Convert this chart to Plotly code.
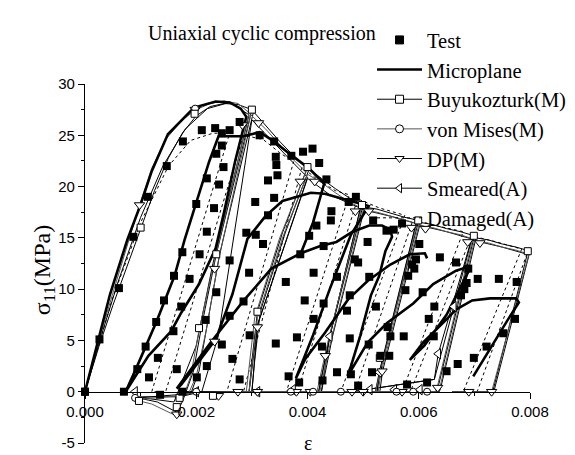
import plotly.graph_objects as go

# ---------------- data (strain in units of 1e-3, stress in MPa) ----------------
test_x = [0.00, 0.26, 0.61, 0.87, 1.13, 1.47, 1.76, 2.10, 2.34, 2.46, 2.60, 2.78, 2.46, 2.36, 2.49, 2.19,
          2.41, 2.00, 2.32, 3.14, 3.40, 3.43, 3.44, 3.46, 3.29, 3.06, 3.29, 2.90, 3.71, 3.92, 4.09, 4.21,
          4.34, 3.40, 4.16, 4.03, 4.43, 4.42, 4.74, 4.87, 5.18, 5.42, 5.70,
          0.70, 0.94, 1.09, 1.15, 1.28, 1.31, 1.42, 1.60, 1.75, 1.59, 1.65, 1.73, 1.88, 2.06, 2.17, 2.36,
          2.01, 2.19, 2.46, 2.60, 2.65, 2.60, 2.78, 2.85, 2.95, 2.96, 3.20, 3.43, 3.61, 3.66, 3.81, 3.85,
          3.87, 3.95, 4.11, 4.11, 4.29, 4.29, 4.27, 4.26, 4.53, 4.53, 4.76, 4.71, 4.76, 4.78, 4.91, 4.85,
          4.91, 5.08, 5.23, 5.11, 5.10, 5.16, 5.31, 5.44, 5.47, 5.49, 5.55, 5.73, 5.79, 5.81, 5.88, 5.76,
          5.92, 6.01, 5.95, 6.07, 6.15, 6.18, 6.27, 6.28, 6.38, 6.50, 6.67, 6.70, 6.76, 6.82, 6.86, 6.89,
          6.99, 7.06, 7.22, 7.44, 7.52, 7.73, 7.76, 2.19, 3.07, 1.35, 1.75]
test_y = [0.0, 5.1, 10.1, 15.1, 19.0, 22.0, 24.4, 25.5, 25.7, 25.2, 25.5, 26.3, 24.0, 23.2, 21.9, 20.8,
          20.2, 18.3, 17.9, 25.0, 24.4, 22.9, 22.1, 21.1, 20.6, 18.5, 17.2, 15.5, 23.0, 23.4, 23.7, 22.3,
          20.7, 18.9, 16.2, 15.2, 17.6, 16.7, 18.5, 19.0, 16.7, 15.7, 16.4,
          0.0, 2.2, 4.4, 1.4, 6.8, 3.3, 8.9, 11.3, 13.6, 5.9, 2.2, 8.3, 11.0, 13.4, 7.0, 9.7,
          1.4, 2.5, 4.6, 7.4, 3.2, 12.8, 1.2, 8.8, 11.6, 5.5, 14.4, 4.7, 10.7, 1.5, 5.3, 0.9,
          13.4, 8.9, 11.6, 7.1, 8.6, 14.2, 1.1, 4.4, 1.9, 11.2, 9.4, 7.9, 5.2, 1.7, 0.6, 12.9,
          12.6, 14.6, 8.3, 11.2, 4.6, 1.9, 3.5, 6.3, 3.5, 5.4, 15.8, 5.4, 0.7, 11.3, 12.4, 9.9,
          12.0, 14.4, 12.9, 9.7, 0.9, 7.1, 5.4, 8.3, 13.1, 2.0, 12.6, 2.7, 9.4, 10.0, 10.6, 12.0,
          3.3, 11.0, 4.4, 11.0, 5.7, 7.1, 10.7, 15.6, 15.3, -0.3, 0.0]

micro_x = [0, 0.45, 0.76, 0.99, 1.2, 1.49, 1.96, 2.35, 2.6, 2.8, 2.9,
           2.7, 2.5, 2.35, 2.05, 1.73, 1.55, 1.14, 0.73,
           0.93, 1.29, 1.61, 1.79, 2.23, 2.4, 2.85, 3.14,
           3.37, 3.7, 4.02, 4.3, 4.1, 3.88, 3.35, 2.84, 2.26, 1.65,
           1.73, 2.35, 2.65, 2.92, 3.24, 3.55, 4.06, 4.31, 4.77, 5.1,
           4.78, 4.4, 4.1, 3.79, 3.96, 4.32, 4.73, 5.08, 5.49, 5.84, 6.11, 6.15, None,
           3.88, 4.23, 4.52, 4.81, 5.11, 5.34, 5.49, 5.52, 5.4, 5.29, 5.14, 4.95, 4.73,
           5.08, 5.43, 5.9, 6.26, 6.67, 6.84, 6.9, 6.5, 6.1, 5.84,
           6.08, 6.49, 6.67, 6.96, 7.28, 7.75, 7.8, 7.6, 7.3, 6.98]
micro_y = [0, 9.5, 14.8, 18.1, 21.5, 25.1, 27.7, 28.3, 28.2, 27.6, 26.8,
           22.5, 17.5, 14.0, 10.5, 7.7, 5.9, 3.5, 0.0,
           2.4, 6.9, 11.3, 14.8, 22.4, 24.9, 24.9, 25.3,
           24.5, 23.1, 21.8, 20.3, 16.5, 13.5, 12.0, 8.8, 4.8, 0.3,
           0.7, 5.1, 9.5, 14.9, 17.1, 18.6, 19.4, 19.3, 18.6, 18.1,
           15.3, 10.0, 5.5, 1.3, 3.2, 5.8, 9.0, 10.8, 12.4, 13.4, 13.5, 13.0, None,
           13.5, 14.2, 14.6, 15.6, 16.2, 16.2, 15.8, 15.1, 13.7, 11.3, 9.4, 5.5, 1.6,
           4.8, 6.7, 8.6, 10.5, 11.8, 12.1, 11.8, 7.5, 4.5, 3.1,
           4.8, 7.0, 8.0, 8.9, 9.1, 9.1, 8.7, 7.0, 4.3, 1.5]

buyuk_x = [0, 0.25, 0.5, 0.75, 1.0, 1.25, 1.5, 1.75, 2.0, 2.25, 2.5, 2.75, 3.0,
           2.36, 2.1, 1.95, 1.75, 1.65, 1.3, 0.95, 1.4, 1.9, 2.05, 2.2, 2.42, 3.03,
           3.25, 3.5, 3.75, 4.0, 3.55, 3.1, 3.0, 2.95, 1.8, 3.0, 3.05, 3.15, 3.6, 4.03,
           4.25, 4.5, 4.75, 5.0, 4.4, 4.2, 2.9, 4.25, 4.45, 5.03,
           5.25, 5.5, 5.75, 6.0, 5.3, 5.25, 3.85, 5.3, 5.35, 6.03,
           6.25, 6.5, 6.75, 7.0, 6.35, 6.32, 4.8, 6.37, 6.4, 7.03,
           7.25, 7.5, 7.75, 8.0, 7.35, 6.6]
buyuk_y = [0, 4.4, 8.4, 12.2, 16.0, 19.6, 22.8, 25.2, 26.9, 27.8, 28.1, 28.0, 27.5,
           13.4, 6.5, 2.0, -1.0, -2.0, -1.0, -0.6, -0.4, -0.2, 2.0, 6.5, 13.4, 27.3,
           25.9, 24.4, 23.0, 21.9, 15.5, 7.8, 3.0, 0.0, -0.1, 0.0, 3.0, 7.8, 15.5, 21.7,
           20.8, 19.8, 18.9, 18.2, 5.4, 0.0, 0.0, 0.0, 5.4, 18.0,
           17.8, 17.4, 17.0, 16.7, 2.0, 0.0, 0.0, 0.0, 2.0, 16.5,
           16.3, 15.9, 15.6, 15.2, 0.5, 0.0, 0.0, 0.0, 0.5, 15.0,
           14.8, 14.4, 14.1, 13.7, 0.0, 0.0]
buyuk_mx = [0, 1.0, 1.97, 3.0, 4.0, 4.98, 5.99, 6.99, 7.96, 2.36, 2.05, 3.1, 0.97, 1.7, 2.3, 5.3, 1.65]
buyuk_my = [0, 16.0, 27.1, 27.5, 21.9, 18.2, 16.7, 15.2, 13.7, 13.4, 6.2, 7.8, -0.9, -0.6, -0.4, 3.3, -1.5]

vm_x = [0, 0.25, 0.5, 0.75, 0.98, 1.2, 1.45, 1.75, 2.0, 2.25, 2.5, 2.75, 2.95,
        2.33, 2.05, 1.9, 1.7, 1.62, 1.2, 0.9, 1.5, 1.85, 2.0, 2.18, 2.4, 2.98,
        3.25, 3.5, 3.75, 3.97, 3.5, 3.05, 2.95, 2.9, 1.8, 2.95, 3.0, 3.1, 3.55, 4.0,
        4.25, 4.5, 4.75, 4.97, 4.35, 4.17, 2.9, 4.22, 4.4, 5.0,
        5.25, 5.5, 5.75, 5.97, 5.3, 5.22, 3.85, 5.27, 5.32, 6.0,
        6.25, 6.5, 6.75, 6.97, 6.33, 6.3, 4.8, 6.35, 6.38, 7.0,
        7.25, 7.5, 7.75, 7.98, 7.31, 6.6]
vm_y = [0, 5.0, 9.6, 14.0, 18.2, 21.8, 24.6, 26.5, 27.5, 28.1, 28.35, 28.1, 27.2,
        12.8, 6.0, 1.5, -1.5, -2.3, -1.2, -0.8, -0.5, -0.3, 1.5, 6.0, 12.8, 27.0,
        25.6, 24.1, 22.6, 21.4, 15.0, 7.2, 2.5, 0.0, -0.1, 0.0, 2.5, 7.2, 15.0, 21.2,
        20.4, 19.4, 18.5, 17.9, 4.5, 0.0, 0.0, 0.0, 4.5, 17.7,
        17.5, 17.1, 16.7, 16.4, 1.8, 0.0, 0.0, 0.0, 1.8, 16.2,
        16.0, 15.6, 15.3, 14.9, 0.4, 0.0, 0.0, 0.0, 0.4, 14.7,
        14.5, 14.1, 13.8, 13.4, 0.0, 0.0]
vm_mx = [0, 1.98, 3.7, 4.1, 4.6, 5.6, 5.9, 6.15, 0.9, 2.0]
vm_my = [0, 27.6, 0.0, 0.0, 0.0, 0.0, 0.0, 0.0, -0.6, 0.0]

dp_mx = [0.98, 1.98, 2.83, 3.12, 3.87, 4.13, 4.86, 5.1, 5.87, 6.12, 6.88, 7.1, 2.33, 2.33,
         3.1, 4.32, 5.34, 6.34, 7.31, 1.65, 2.4, 2.75, 3.1, 3.8, 4.05, 4.8, 5.0, 5.7, 6.9]
dp_my = [18.2, 27.5, 26.0, 26.2, 20.5, 20.5, 17.6, 17.6, 16.0, 15.9, 14.6, 14.5, 12.0, 4.9,
         6.3, 3.5, 2.0, 0.4, 0.0, -2.2, -0.4, 0.0, 0.0, 0.0, 0.0, 0.0, 0.0, 0.0, 0.0]

smear_x = [0, 0.3, 0.6, 1.0, 1.4, 1.8, 2.2, 2.6, 2.95, 2.3, 2.0, 1.6, 0.9, 1.7, 2.1, 2.4, 3.0,
           3.4, 3.8, 4.0, 3.1, 2.95, 1.8, 3.0, 3.1, 4.0,
           4.4, 4.95, 4.4, 4.2, 2.9, 4.25, 4.4, 4.95,
           5.5, 5.95, 5.29, 5.22, 3.8, 5.25, 5.3, 5.95,
           6.5, 6.95, 6.35, 6.28, 4.8, 6.28, 6.63, 6.95,
           7.5, 7.95, 7.33, 6.6]
smear_y = [0, 5.6, 10.8, 17.0, 22.0, 25.6, 27.6, 28.2, 27.0, 12.5, 4.5, -1.0, -0.5, -0.5, 0.0, 5.5, 26.5,
           24.2, 22.0, 20.9, 6.5, 0.0, 0.0, 0.0, 6.5, 20.8,
           19.2, 17.9, 5.4, 0.0, 0.0, 0.0, 5.4, 17.8,
           17.1, 16.4, 1.9, 0.0, 0.0, 0.0, 1.9, 16.3,
           15.6, 14.9, 3.7, 1.2, 0.0, 1.2, 8.3, 14.8,
           14.1, 13.4, 0.0, 0.0]
smear_mx = [0.9, 3.1, 3.74, 4.4, 5.29, 6.35, 6.63, 5.12, 5.56, 6.02, 2.0]
smear_my = [0.0, 0.0, 0.2, 5.4, 1.9, 3.7, 8.3, 0.2, 0.2, 0.2, 0.0]

dam_x = [0, 0.5, 1.0, 1.5, 1.9, 2.3, 2.6, 1.2, 1.45, 2.85, 3.2, 3.5, 3.75, 2.55, 2.85, 3.9,
         4.2, 4.5, 4.75, 3.62, 3.82, 4.9, 5.3, 5.75, 4.6, 4.85, 5.9, 6.3, 6.8, 5.7, 5.85, 6.95,
         7.4, 7.85, 6.8, 7.05, 7.95]
dam_y = [0, 9.2, 16.5, 22.0, 24.5, 25.2, 25.2, 0.0, 0.0, 25.0, 24.6, 23.3, 22.4, 0.0, 0.0, 21.9,
         20.6, 19.6, 19.2, 0.0, 0.0, 18.8, 17.9, 17.2, 0.0, 0.0, 16.8, 16.2, 15.6, 0.0, 0.0, 15.2,
         14.6, 13.9, 0.0, 0.0, 13.5]

x_tickvals = [0, 2, 4, 6, 8]
x_ticktext = ["0.000", "0.002", "0.004", "0.006", "0.008"]
y_tickvals = [-5, 0, 5, 10, 15, 20, 25, 30]
y_ticktext = ["-5", "0", "5", "10", "15", "20", "25", "30"]

# ---------------- figure ----------------
SERIF = "Liberation Serif, Times New Roman, serif"
SANS = "Liberation Sans, Arial, sans-serif"
fig = go.Figure()

def line(x, y, color="black", width=1, dash="solid"):
    fig.add_trace(go.Scatter(x=x, y=y, mode="lines", line=dict(color=color, width=width, dash=dash),
                             showlegend=False, hoverinfo="skip", connectgaps=False))

def marks(x, y, symbol, size=8, fill="white", lc="black"):
    fig.add_trace(go.Scatter(x=x, y=y, mode="markers", cliponaxis=False,
                             marker=dict(symbol=symbol, size=size, color=fill,
                                         line=dict(color=lc, width=1)),
                             showlegend=False, hoverinfo="skip"))

line(dam_x, dam_y, width=1, dash="dot")
line(smear_x, smear_y, width=1)
line(buyuk_x, buyuk_y, width=1)
line(vm_x, vm_y, color="#555555", width=1)
line(micro_x, micro_y, width=2.6)
marks(smear_mx, smear_my, "triangle-left", 9)
marks(dp_mx, dp_my, "triangle-down", 9)
marks(vm_mx, vm_my, "circle", 7)
marks(buyuk_mx, buyuk_my, "square", 7)
fig.add_trace(go.Scatter(x=test_x, y=test_y, mode="markers", cliponaxis=False,
                         marker=dict(symbol="square", size=8, color="black"),
                         showlegend=False, hoverinfo="skip"))

# legend entries
def leg(name, mode, symbol=None, color="black", width=1, dash="solid", fill="white"):
    kw = dict(x=[None], y=[None], mode=mode, name=name, showlegend=True)
    kw["line"] = dict(color=color, width=width, dash=dash)
    if symbol:
        kw["marker"] = dict(symbol=symbol, size=8, color=fill, line=dict(color="black", width=1))
    fig.add_trace(go.Scatter(**kw))

leg("Test", "markers", "square", fill="black")
leg("Microplane", "lines", width=2.6)
leg("Buyukozturk(M)", "lines+markers", "square")
leg("von Mises(M)", "lines+markers", "circle", color="#555555")
leg("DP(M)", "lines+markers", "triangle-down")
leg("Smeared(A)", "lines+markers", "triangle-left")
leg("Damaged(A)", "lines", dash="dot")

fig.update_layout(
    width=575, height=455,
    margin=dict(l=77, r=44, t=70, b=18),
    paper_bgcolor="white", plot_bgcolor="white",
    font=dict(family=SANS, color="black"),
    showlegend=True,
    legend=dict(x=0.645, y=1.178, xanchor="left", yanchor="top", bgcolor="rgba(0,0,0,0)",
                font=dict(family=SERIF, size=20.5, color="black"), itemwidth=45,
                tracegroupgap=0),
    xaxis=dict(range=[0, 8], anchor="free", position=5 / 35, showline=True, linecolor="black",
               linewidth=1.2, ticks="outside", ticklen=6, tickwidth=1.2, tickcolor="black",
               tickvals=x_tickvals, ticktext=x_ticktext, tickfont=dict(family=SANS, size=15),
               showgrid=False, zeroline=False,
               minor=dict(tickvals=[1, 3, 5, 7], ticks="outside", ticklen=3, tickcolor="black")),
    yaxis=dict(range=[-5, 30], showline=True, linecolor="black", linewidth=1.2, ticks="outside",
               ticklen=6, tickwidth=1.2, tickcolor="black", tickvals=y_tickvals,
               ticktext=y_ticktext, tickfont=dict(family=SANS, size=15), showgrid=False,
               zeroline=False,
               minor=dict(tickvals=[-2.5, 2.5, 7.5, 12.5, 17.5, 22.5, 27.5], ticks="outside",
                          ticklen=3, tickcolor="black")),
    annotations=[
        dict(text="Uniaxial cyclic compression", xref="paper", yref="paper", x=0.397, y=1.141,
             showarrow=False, font=dict(family=SERIF, size=20), xanchor="center", yanchor="middle"),
        dict(text="ε", xref="paper", yref="paper", x=0.5, y=0.0, showarrow=False,
             font=dict(family=SERIF, size=20), xanchor="center", yanchor="middle"),
        dict(text="σ<sub>11</sub>(MPa)", xref="paper", yref="paper", x=-0.093, y=0.48,
             textangle=-90, showarrow=False, font=dict(family=SERIF, size=24),
             xanchor="center", yanchor="middle"),
    ],
)

fig.write_html("out.html")
